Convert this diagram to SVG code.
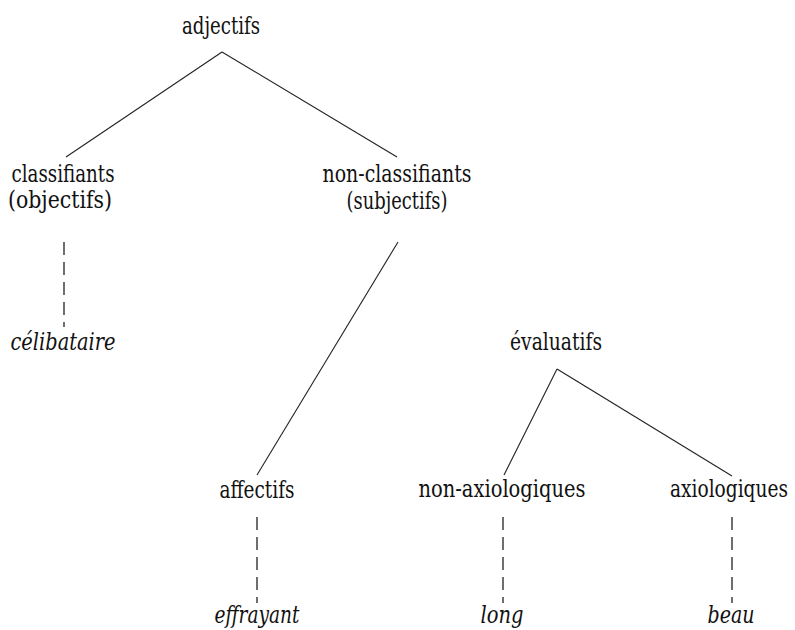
<svg xmlns="http://www.w3.org/2000/svg" width="795" height="630" viewBox="0 0 795 630">
<style>
.t text{font-family:"DejaVu Serif","Liberation Serif",serif;font-size:24px;fill:#111;text-anchor:middle}
.t .ex{font-style:italic}
.t .r{text-anchor:end}
.e{stroke:#222;stroke-width:1.1;fill:none}
.d{stroke:#222;stroke-width:1.3;fill:none;stroke-dasharray:13 7}
</style>
<rect width="795" height="630" fill="#fff"/>
<g id="connectors">
<line class="e" x1="222" y1="52" x2="66" y2="157"/>
<line class="e" x1="222" y1="52" x2="397" y2="157"/>
<line class="e" x1="398" y1="242" x2="257" y2="475"/>
<line class="e" x1="557" y1="369" x2="504" y2="475"/>
<line class="e" x1="557" y1="369" x2="732" y2="476"/>
<line class="d" x1="64" y1="242" x2="64" y2="327"/>
<line class="d" x1="257" y1="517" x2="257" y2="603"/>
<line class="d" x1="503" y1="517" x2="503" y2="603"/>
<line class="d" x1="732" y1="517" x2="732" y2="603"/>
</g>
<g class="t">
<g id="adjectifs"><text x="221" y="34" textLength="78" lengthAdjust="spacingAndGlyphs">adjectifs</text></g>
<g id="classifiants"><text x="63" y="182" textLength="103" lengthAdjust="spacingAndGlyphs">classifiants</text><text x="60" y="208" textLength="104" lengthAdjust="spacingAndGlyphs">(objectifs)</text></g>
<g id="non-classifiants"><text x="397" y="182" textLength="149" lengthAdjust="spacingAndGlyphs">non-classifiants</text><text x="397" y="209" textLength="101" lengthAdjust="spacingAndGlyphs">(subjectifs)</text></g>
<g id="celibataire"><text class="ex" x="63" y="350" textLength="105" lengthAdjust="spacingAndGlyphs">célibataire</text></g>
<g id="evaluatifs"><text x="556" y="350" textLength="92" lengthAdjust="spacingAndGlyphs">évaluatifs</text></g>
<g id="affectifs"><text x="257" y="498" textLength="75" lengthAdjust="spacingAndGlyphs">affectifs</text></g>
<g id="non-axiologiques"><text x="502" y="497" textLength="167" lengthAdjust="spacingAndGlyphs">non-axiologiques</text></g>
<g id="axiologiques"><text class="r" x="788" y="497" textLength="118" lengthAdjust="spacingAndGlyphs">axiologiques</text></g>
<g id="effrayant"><text class="ex" x="257" y="623" textLength="85" lengthAdjust="spacingAndGlyphs">effrayant</text></g>
<g id="long"><text class="ex" x="502" y="623" textLength="43" lengthAdjust="spacingAndGlyphs">long</text></g>
<g id="beau"><text class="ex" x="731" y="623" textLength="47" lengthAdjust="spacingAndGlyphs">beau</text></g>
</g>
</svg>
